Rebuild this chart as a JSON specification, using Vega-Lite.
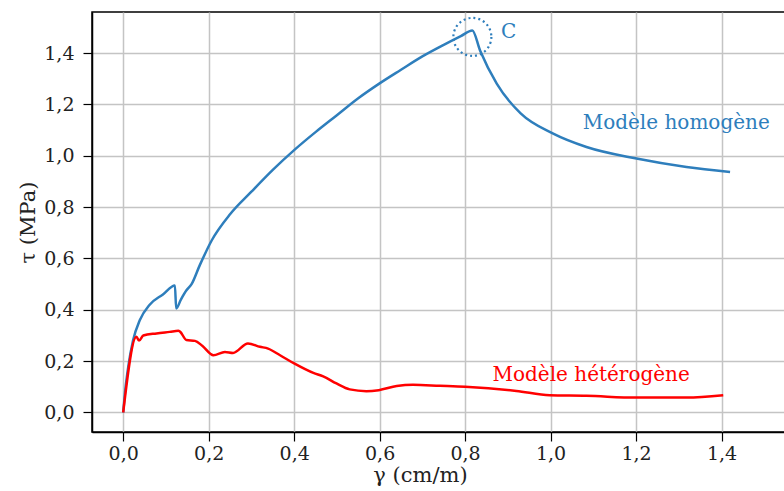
{
  "$schema": "https://vega.github.io/schema/vega-lite/v6.json",
  "autosize": {"type": "none"},
  "padding": {"left": 92, "top": 12, "right": 0, "bottom": 59},
  "width": 715,
  "height": 420,
  "background": "white",
  "config": {
    "view": {"stroke": "black", "strokeWidth": 1.5},
    "font": "DejaVu Serif",
    "axis": {
      "domainColor": "black",
      "domainWidth": 1.5,
      "tickColor": "black",
      "tickWidth": 1.2,
      "tickSize": 9,
      "labelFont": "DejaVu Serif",
      "labelFontSize": 19,
      "labelColor": "#222222",
      "titleFont": "DejaVu Serif",
      "titleFontSize": 21,
      "titleFontWeight": "normal",
      "titleColor": "#222222",
      "gridColor": "#c4c4c4",
      "gridWidth": 1.5,
      "gridOpacity": 1
    }
  },
  "datasets": {
    "curves": [
      {"g": 0, "t": 0, "s": "homogene"},
      {"g": 0.005, "t": 0.09, "s": "homogene"},
      {"g": 0.012, "t": 0.18, "s": "homogene"},
      {"g": 0.023, "t": 0.28, "s": "homogene"},
      {"g": 0.039, "t": 0.36, "s": "homogene"},
      {"g": 0.062, "t": 0.42, "s": "homogene"},
      {"g": 0.093, "t": 0.46, "s": "homogene"},
      {"g": 0.121, "t": 0.495, "s": "homogene"},
      {"g": 0.124, "t": 0.405, "s": "homogene"},
      {"g": 0.135, "t": 0.44, "s": "homogene"},
      {"g": 0.148, "t": 0.476, "s": "homogene"},
      {"g": 0.16, "t": 0.5, "s": "homogene"},
      {"g": 0.179, "t": 0.573, "s": "homogene"},
      {"g": 0.207, "t": 0.67, "s": "homogene"},
      {"g": 0.25, "t": 0.772, "s": "homogene"},
      {"g": 0.3, "t": 0.86, "s": "homogene"},
      {"g": 0.35, "t": 0.945, "s": "homogene"},
      {"g": 0.4, "t": 1.022, "s": "homogene"},
      {"g": 0.45, "t": 1.092, "s": "homogene"},
      {"g": 0.5, "t": 1.158, "s": "homogene"},
      {"g": 0.55, "t": 1.224, "s": "homogene"},
      {"g": 0.6, "t": 1.282, "s": "homogene"},
      {"g": 0.65, "t": 1.335, "s": "homogene"},
      {"g": 0.7, "t": 1.387, "s": "homogene"},
      {"g": 0.75, "t": 1.432, "s": "homogene"},
      {"g": 0.79, "t": 1.466, "s": "homogene"},
      {"g": 0.817, "t": 1.488, "s": "homogene"},
      {"g": 0.835, "t": 1.41, "s": "homogene"},
      {"g": 0.874, "t": 1.281, "s": "homogene"},
      {"g": 0.93, "t": 1.165, "s": "homogene"},
      {"g": 1.005, "t": 1.087, "s": "homogene"},
      {"g": 1.084, "t": 1.034, "s": "homogene"},
      {"g": 1.201, "t": 0.989, "s": "homogene"},
      {"g": 1.318, "t": 0.956, "s": "homogene"},
      {"g": 1.42, "t": 0.937, "s": "homogene"},
      {"g": 0, "t": 0, "s": "heterogene"},
      {"g": 0.031, "t": 0.295, "s": "heterogene"},
      {"g": 0.037, "t": 0.28, "s": "heterogene"},
      {"g": 0.047, "t": 0.3, "s": "heterogene"},
      {"g": 0.078, "t": 0.308, "s": "heterogene"},
      {"g": 0.109, "t": 0.314, "s": "heterogene"},
      {"g": 0.129, "t": 0.318, "s": "heterogene"},
      {"g": 0.133, "t": 0.315, "s": "heterogene"},
      {"g": 0.148, "t": 0.282, "s": "heterogene"},
      {"g": 0.168, "t": 0.279, "s": "heterogene"},
      {"g": 0.185, "t": 0.26, "s": "heterogene"},
      {"g": 0.211, "t": 0.223, "s": "heterogene"},
      {"g": 0.238, "t": 0.236, "s": "heterogene"},
      {"g": 0.257, "t": 0.232, "s": "heterogene"},
      {"g": 0.292, "t": 0.269, "s": "heterogene"},
      {"g": 0.32, "t": 0.256, "s": "heterogene"},
      {"g": 0.339, "t": 0.249, "s": "heterogene"},
      {"g": 0.367, "t": 0.223, "s": "heterogene"},
      {"g": 0.4, "t": 0.191, "s": "heterogene"},
      {"g": 0.445, "t": 0.154, "s": "heterogene"},
      {"g": 0.468, "t": 0.141, "s": "heterogene"},
      {"g": 0.499, "t": 0.113, "s": "heterogene"},
      {"g": 0.53, "t": 0.09, "s": "heterogene"},
      {"g": 0.569, "t": 0.083, "s": "heterogene"},
      {"g": 0.598, "t": 0.087, "s": "heterogene"},
      {"g": 0.64, "t": 0.103, "s": "heterogene"},
      {"g": 0.678, "t": 0.108, "s": "heterogene"},
      {"g": 0.741, "t": 0.104, "s": "heterogene"},
      {"g": 0.8, "t": 0.1, "s": "heterogene"},
      {"g": 0.92, "t": 0.084, "s": "heterogene"},
      {"g": 0.998, "t": 0.067, "s": "heterogene"},
      {"g": 1.084, "t": 0.065, "s": "heterogene"},
      {"g": 1.2, "t": 0.058, "s": "heterogene"},
      {"g": 1.318, "t": 0.058, "s": "heterogene"},
      {"g": 1.404, "t": 0.067, "s": "heterogene"}
    ],
    "labels": [
      {"g": 1.294, "t": 1.127, "label": "Modèle homogène", "s": "homogene"},
      {"g": 1.095, "t": 0.145, "label": "Modèle hétérogène", "s": "heterogene"},
      {"g": 0.902, "t": 1.481, "label": "C", "s": "homogene"}
    ],
    "circle": [
      {"g": 0.817, "t": 1.463, "s": "homogene"}
    ]
  },
  "encoding": {
    "x": {
      "field": "g", "type": "quantitative",
      "scale": {"domain": [-0.073, 1.6], "nice": false, "zero": false},
      "axis": {
        "values": [0, 0.2, 0.4, 0.6, 0.8, 1.0, 1.2, 1.4],
        "labelExpr": "replace(format(datum.value, '.1f'), '.', ',')",
        "labelPadding": 3,
        "title": "γ (cm/m)",
        "titleX": 328,
        "titlePadding": 1
      }
    },
    "y": {
      "field": "t", "type": "quantitative",
      "scale": {"domain": [-0.076, 1.56], "nice": false, "zero": false},
      "axis": {
        "values": [0, 0.2, 0.4, 0.6, 0.8, 1.0, 1.2, 1.4],
        "labelExpr": "replace(format(datum.value, '.1f'), '.', ',')",
        "labelPadding": 9,
        "title": "τ (MPa)",
        "titlePadding": 5
      }
    },
    "color": {
      "field": "s", "type": "nominal",
      "scale": {"domain": ["homogene", "heterogene"], "range": ["#2e7ebc", "#ff0000"]},
      "legend": null
    }
  },
  "layer": [
    {
      "data": {"name": "curves"},
      "mark": {"type": "line", "strokeWidth": 2.5, "strokeJoin": "round", "interpolate": "monotone"},
      "encoding": {"detail": {"field": "s"}}
    },
    {
      "data": {"name": "circle"},
      "mark": {"type": "point", "shape": "circle", "filled": false, "size": 1444, "strokeWidth": 2.2, "strokeDash": [2, 3], "opacity": 1}
    },
    {
      "data": {"name": "labels"},
      "mark": {"type": "text", "font": "DejaVu Serif", "fontSize": 20, "align": "center", "baseline": "middle"},
      "encoding": {"text": {"field": "label"}}
    }
  ]
}
